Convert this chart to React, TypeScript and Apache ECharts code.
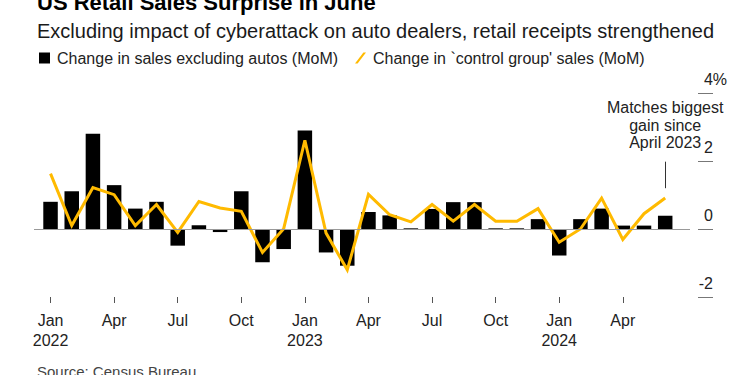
import React, { useEffect, useRef } from "react";
import * as echarts from "echarts";

// Month periods, Jan 2022 .. Jun 2024
const periods = [
  "2022-01", "2022-02", "2022-03", "2022-04", "2022-05", "2022-06",
  "2022-07", "2022-08", "2022-09", "2022-10", "2022-11", "2022-12",
  "2023-01", "2023-02", "2023-03", "2023-04", "2023-05", "2023-06",
  "2023-07", "2023-08", "2023-09", "2023-10", "2023-11", "2023-12",
  "2024-01", "2024-02", "2024-03", "2024-04", "2024-05", "2024-06",
];

// Change in sales excluding autos (MoM, %)
const exAutos = [
  0.80, 1.11, 2.80, 1.29, 0.60, 0.80, -0.49, 0.11, -0.09, 1.11, -0.98, -0.59,
  2.90, -0.69, -1.08, 0.50, 0.40, 0.02, 0.59, 0.79, 0.79, 0.02, 0.02, 0.29,
  -0.78, 0.29, 0.60, 0.10, 0.10, 0.39,
];

// Change in 'control group' sales (MoM, %)
const controlGroup = [
  1.63, 0.10, 1.22, 1.01, 0.10, 0.72, -0.10, 0.81, 0.62, 0.52, -0.69, 0.01,
  2.61, -0.12, -1.20, 1.02, 0.42, 0.21, 0.72, 0.23, 0.72, 0.23, 0.23, 0.60,
  -0.39, 0.00, 0.91, -0.31, 0.45, 0.91,
];

const monthNames = ["Jan", "Feb", "Mar", "Apr", "May", "Jun", "Jul", "Aug", "Sep", "Oct", "Nov", "Dec"];
const xTickIndices = [0, 3, 6, 9, 12, 15, 18, 21, 24, 27];
const yTickValues = [-2, 0, 2, 4];
const yMin = -2;
const yMax = 4;
const yStep = 2;
const xMin = -0.78;
const xMax = 30.17;

const titleText = "US Retail Sales Surprise in June";
const subtitleText = "Excluding impact of cyberattack on auto dealers, retail receipts strengthened";
const sourceText = "Source: Census Bureau";
const barName = "Change in sales excluding autos (MoM)";
const lineName = "Change in `control group' sales (MoM)";
const annotationText = "Matches biggest\ngain since\nApril 2023";
const annotationIndex = 29;
const annotationRange = [1.2, 1.98];

const TICK_GAP = 8; // gap between plot edge and y tick marks
const TICK_LEN = 15;

const FONT = "'Liberation Sans', Arial, Helvetica, sans-serif";
const YELLOW = "#FFBA00";

export default function App() {
  const ref = useRef<HTMLDivElement>(null);

  useEffect(() => {
    if (!ref.current) return;
    const chart = echarts.init(ref.current, undefined, { renderer: "svg" });

    const barData = exAutos.map((v, i) => [i, v]);
    const lineData = controlGroup.map((v, i) => [i, v]);

    const fmtX = (v: number) => {
      const idx = Math.round(v);
      const p = periods[idx];
      if (!p) return "";
      const [y, m] = p.split("-");
      const mi = parseInt(m, 10) - 1;
      return mi === 0 ? `${monthNames[mi]}\n${y}` : monthNames[mi];
    };

    const legendText = { fontSize: 16, color: "#222", fontFamily: FONT, padding: [0, 0, 0, 2] };

    const option: any = {
      animation: false,
      textStyle: { fontFamily: FONT },
      title: [
        {
          text: titleText,
          left: 32,
          top: -14,
          textStyle: { fontSize: 22, fontWeight: "bold", color: "#000", fontFamily: FONT },
        },
        {
          text: subtitleText,
          left: 32,
          top: 16,
          textStyle: { fontSize: 20, fontWeight: "normal", color: "#1a1a1a", fontFamily: FONT },
        },
        {
          text: sourceText,
          left: 32,
          top: 359,
          textStyle: { fontSize: 15, fontWeight: "normal", color: "#444", fontFamily: FONT },
        },
      ],
      legend: [
        {
          left: 34,
          top: 45,
          itemWidth: 11,
          itemHeight: 11,
          textStyle: legendText,
          data: [{ name: barName, icon: "rect" }],
        },
        {
          left: 350,
          top: 45,
          itemWidth: 11,
          itemHeight: 11,
          textStyle: legendText,
          data: [{ name: lineName, icon: "path://M0,11L2.6,11L11,0L8.4,0Z" }],
        },
      ],
      grid: { left: 34, right: 60, top: 93, bottom: 78, containLabel: false },
      xAxis: {
        type: "value",
        min: xMin,
        max: xMax,
        splitLine: { show: false },
        axisLine: { show: false, onZero: false },
        axisTick: {
          show: true,
          length: 6,
          customValues: xTickIndices,
          lineStyle: { color: "#555", width: 1 },
        },
        axisLabel: {
          customValues: xTickIndices,
          formatter: fmtX,
          fontSize: 16,
          lineHeight: 20,
          color: "#222",
          margin: 13,
          fontFamily: FONT,
        },
      },
      yAxis: {
        type: "value",
        position: "right",
        offset: TICK_GAP,
        min: yMin,
        max: yMax,
        interval: yStep,
        splitLine: { show: false },
        axisLine: { show: false, onZero: false },
        axisTick: { show: false },
        axisLabel: {
          margin: 0,
          align: "left",
          verticalAlign: "bottom",
          padding: [0, 0, 6, 0],
          fontSize: 16,
          color: "#222",
          fontFamily: FONT,
          formatter: (v: number) => (v === yMax ? `{q|${v}%}` : `{n|${v}}`),
          rich: {
            n: { width: 15, align: "right", fontSize: 16, color: "#222", fontFamily: FONT },
            q: { width: 29, align: "right", fontSize: 16, color: "#222", fontFamily: FONT },
          },
        },
      },
      series: [
        {
          name: barName,
          type: "bar",
          data: barData,
          barWidth: 14.5,
          itemStyle: { color: "#000" },
          z: 2,
          markLine: {
            silent: true,
            symbol: ["none", "none"],
            label: { show: false },
            lineStyle: { color: "#999", width: 1, type: "solid" },
            data: [{ yAxis: 0 }],
          },
        },
        {
          name: lineName,
          type: "line",
          data: lineData,
          showSymbol: false,
          symbol: "none",
          lineStyle: { color: YELLOW, width: 3, join: "miter" },
          itemStyle: { color: YELLOW },
          z: 3,
          markLine: {
            silent: true,
            symbol: ["none", "none"],
            lineStyle: { color: "#333", width: 1, type: "solid" },
            label: {
              show: true,
              position: "end",
              distance: 10,
              formatter: annotationText,
              fontSize: 16,
              lineHeight: 17.5,
              color: "#222",
              fontFamily: FONT,
            },
            data: [
              [
                { coord: [annotationIndex, annotationRange[0]] },
                { coord: [annotationIndex, annotationRange[1]] },
              ],
            ],
          },
        },
      ],
    };

    chart.setOption(option);

    // y tick marks to the right of the plot, placed through the chart's own scales
    const tickGraphics = yTickValues.map((v) => {
      const p = chart.convertToPixel({ gridIndex: 0 }, [xMax, v]) as number[];
      const x0 = Math.round(p[0]) + TICK_GAP;
      const y0 = Math.round(p[1]) + 0.5;
      return {
        type: "line",
        silent: true,
        z: 100,
        shape: { x1: x0, y1: y0, x2: x0 + TICK_LEN, y2: y0 },
        style: { stroke: "#777", lineWidth: 1 },
      };
    });
    chart.setOption({ graphic: tickGraphics });

    return () => chart.dispose();
  }, []);

  return (
    <div
      ref={ref}
      style={{ position: "fixed", left: 0, top: 0, width: 750, height: 375, background: "#fff" }}
    />
  );
}
